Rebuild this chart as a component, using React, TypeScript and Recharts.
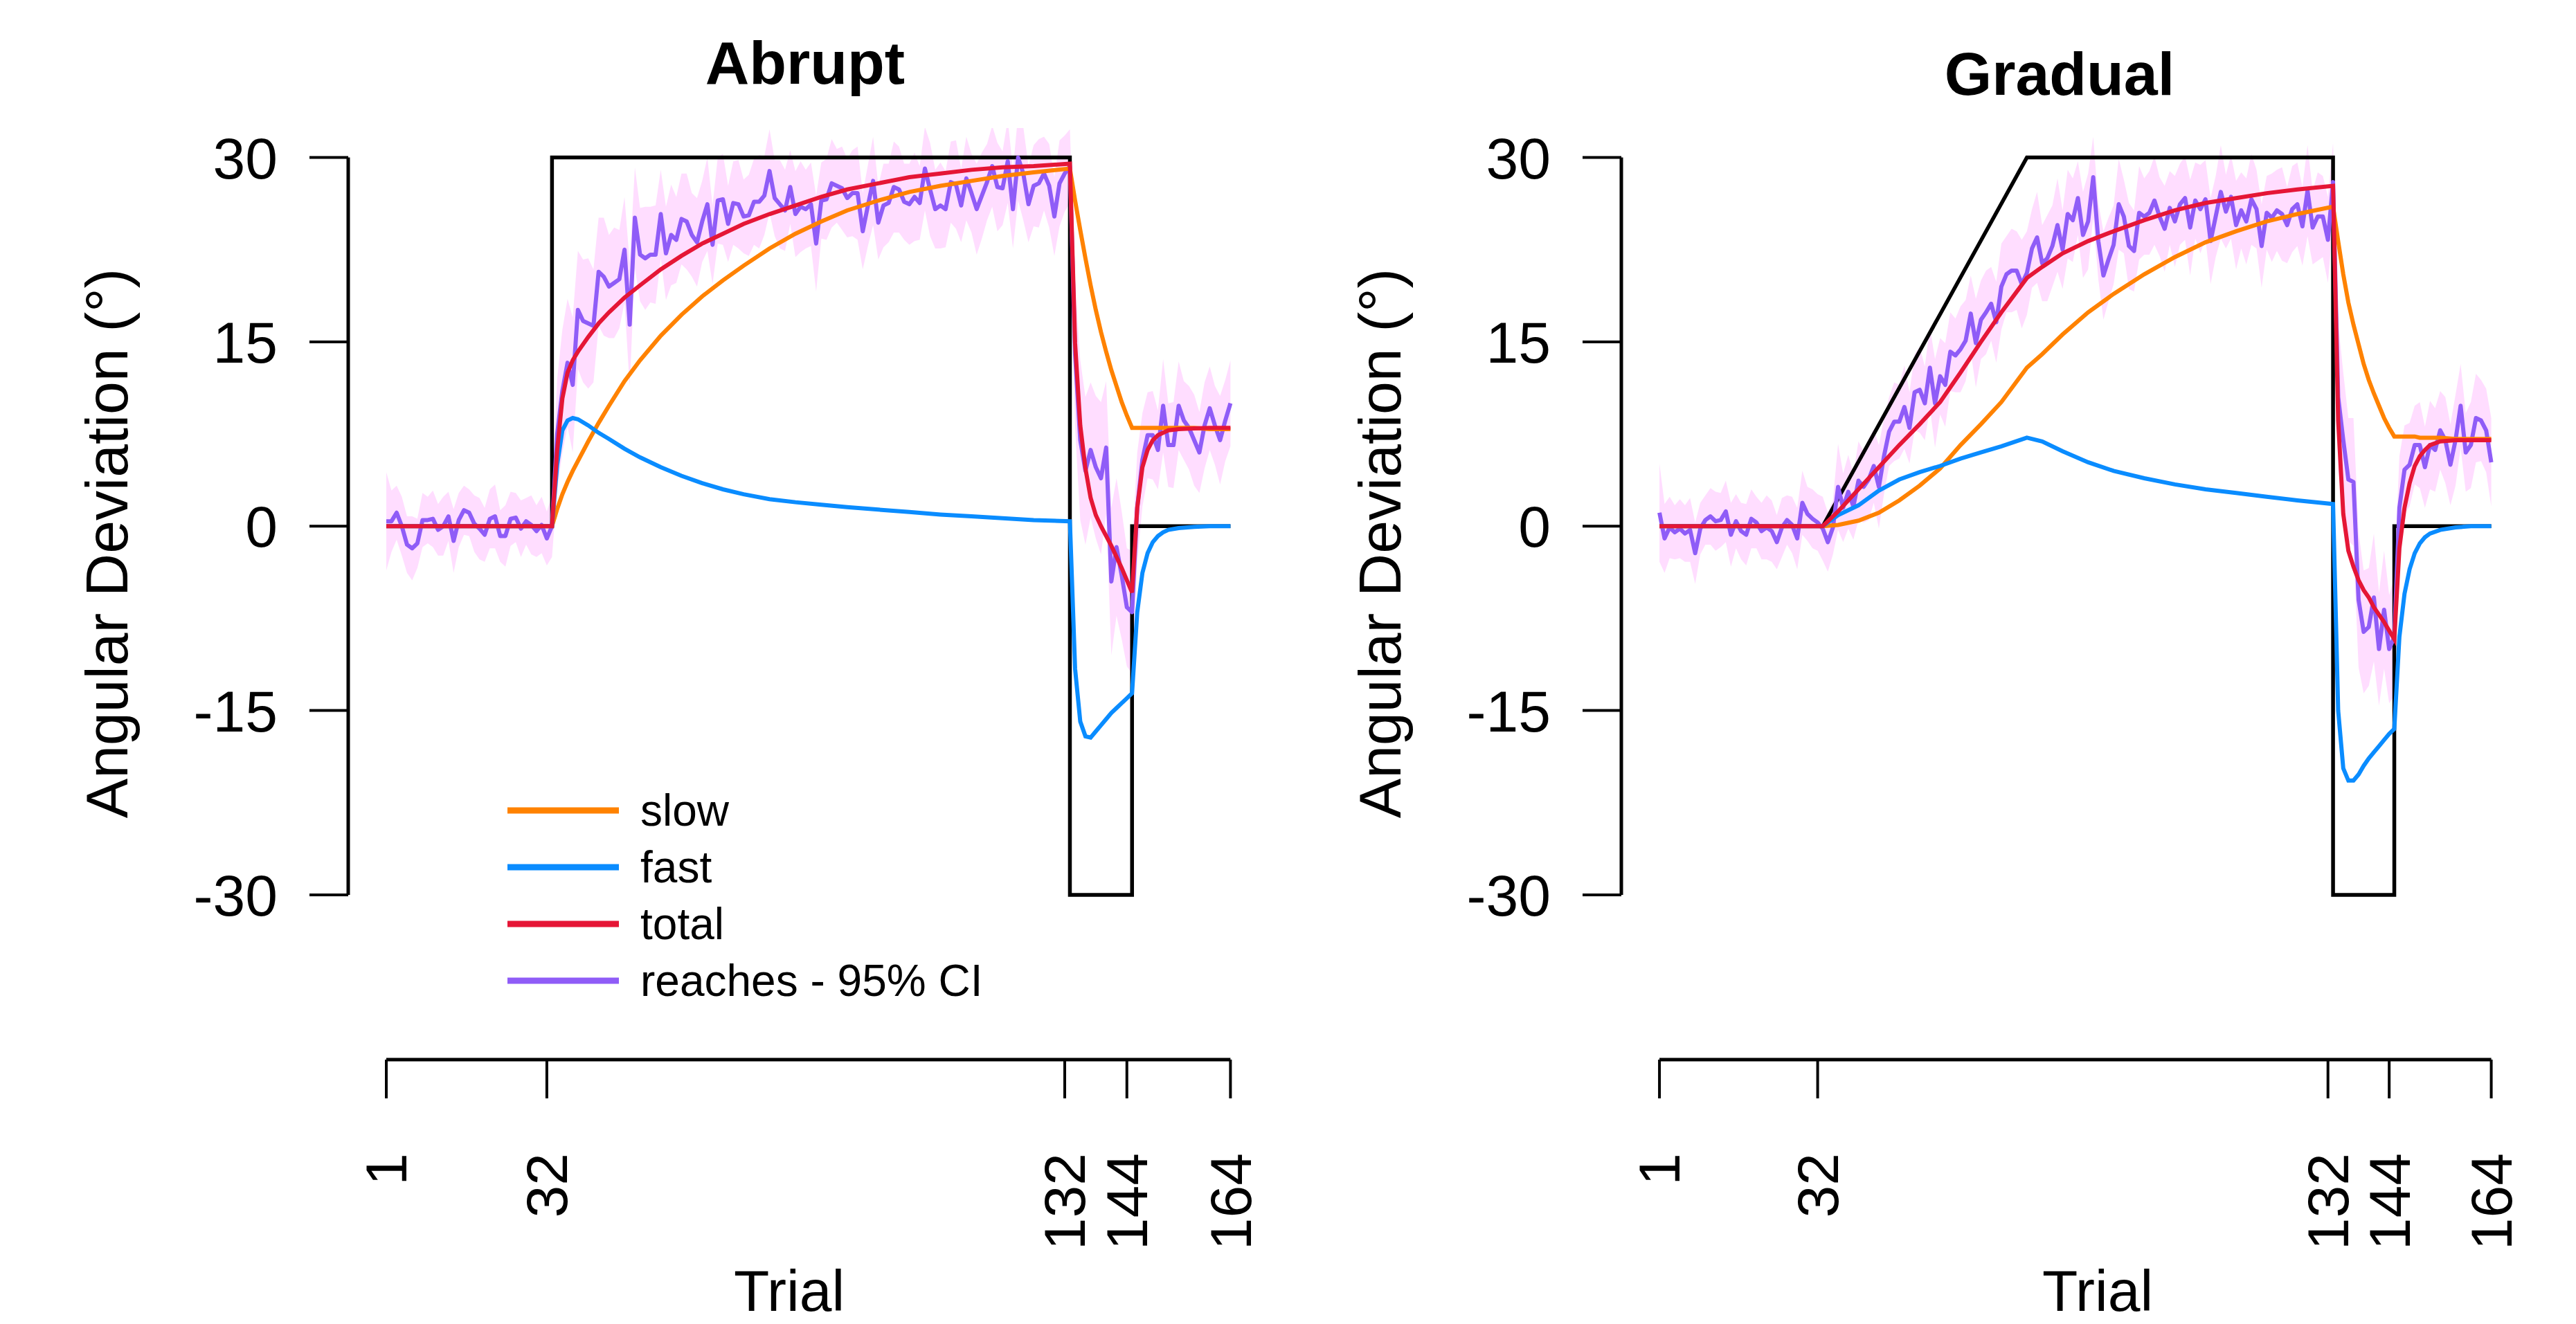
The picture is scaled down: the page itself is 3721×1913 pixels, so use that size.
import React from "react";
import { ComposedChart, Line, Area, XAxis, YAxis, ReferenceLine, Legend } from "recharts";

// ---------- values ----------
const TRIAL_TICKS = [1, 32, 132, 144, 164];
const DEV_TICKS = [-30, -15, 0, 15, 30];

// rotation schedule, corner points
const SCHEDULE_TRIALS_ABRUPT = [1, 33, 33, 133, 133, 145, 145, 164];
const SCHEDULE_TRIALS_GRADUAL = [1, 33, 73, 133, 133, 145, 145, 164];
const SCHEDULE_VALUES = [0, 0, 30, 30, -30, -30, 0, 0];

// mean reach deviations per trial (abrupt group)
const ABRUPT_REACH_BASELINE = [0.4, 0.4, 1.1, 0.0, -1.5, -1.8, -1.4, 0.5, 0.5, 0.6, -0.3, 0.0, 0.8, -1.2, 0.5, 1.3, 1.1, 0.2, -0.2, -0.7, 0.6, 0.8, -0.8, -0.8, 0.6, 0.7, -0.2, 0.4, 0.1, -0.4, 0.1, -1.0];
const ABRUPT_REACH_ROTATED = [0.0, 7.5, 11.0, 13.3, 11.5, 17.6, 16.7, 16.5, 16.3, 20.7, 20.3, 19.5, 19.8, 20.1, 22.5, 16.4, 25.1, 22.1, 21.8, 22.1, 22.1, 25.4, 22.2, 23.7, 23.3, 25.0, 24.8, 23.7, 23.1, 24.8, 26.2, 22.9, 26.5, 26.6, 24.6, 26.3, 26.2, 25.2, 25.3, 26.4, 26.4, 26.9, 28.9, 26.7, 26.2, 25.7, 27.6, 25.4, 26.0, 25.8, 26.2, 23.0, 26.5, 26.6, 27.9,
  27.7, 27.5, 26.7, 27.1, 27.1, 24.0, 26.1, 28.1, 24.7, 26.1, 26.3, 27.6, 27.4, 26.4, 26.2, 26.8, 26.3, 29.1, 27.4, 25.8, 26.1, 25.8, 28.0, 27.8, 26.1, 28.3, 27.1, 25.8, 26.9, 28.0, 29.3, 27.6, 27.5, 29.7, 25.8, 30.0, 28.7, 26.2, 27.7, 27.9, 28.7, 27.7, 25.2, 27.9, 28.7, 29.3];
const ABRUPT_REACH_REVERSED = [14.0, 7.0, 4.5, 6.2, 4.8, 3.9, 6.4, -4.5, -1.7, -4.0, -6.6, -7.0];
const ABRUPT_REACH_CLAMP = [1.5, 5.4, 7.4, 7.4, 6.2, 9.8, 6.6, 6.6, 9.8, 8.6, 8.0, 7.0, 6.0, 8.2, 9.6, 8.2, 7.0, 8.6, 10.0];

// 95% CI half widths (abrupt)
const ABRUPT_CI_BASELINE = [4.0, 2.5, 2.2, 2.4, 2.3, 2.6, 2.0, 2.2, 1.9, 2.3, 2.1, 2.4, 2.0, 2.6, 2.2, 2.0, 1.9, 2.3, 2.5, 2.2, 2.4, 2.6, 2.1, 2.5, 2.2, 2.0, 2.3, 1.9, 2.4, 2.1, 2.3, 2.2];
const ABRUPT_CI_ROTATED = [2.5, 4.5, 5.0, 5.2, 5.5, 4.8, 5.0, 5.3, 4.6, 4.4, 4.8, 4.2, 4.5, 4.0, 4.3, 5.0, 4.1, 3.8, 4.2, 3.9, 4.0, 3.6, 3.8, 4.1, 3.5, 3.7, 3.9, 3.4,
  3.6, 3.3, 3.8, 3.2, 3.5, 3.7, 3.1, 3.4, 3.6, 3.0, 3.3, 3.5, 3.8, 3.2, 3.4, 3.1, 3.6, 3.3, 3.0, 3.5, 3.7, 3.2, 3.4, 3.9, 3.1, 3.3, 3.6, 3.0, 3.4, 3.2,
  3.5, 3.8, 3.1, 3.3, 3.6, 3.0, 3.4, 3.2, 3.7, 3.5, 3.1, 3.3, 3.6, 3.0, 3.4, 3.8, 3.2, 3.5, 3.1, 3.3, 3.6, 3.0, 3.4, 3.2, 3.7, 3.5, 3.1, 3.3, 3.6, 3.0,
  3.4, 3.2, 3.5, 3.8, 3.1, 3.3, 3.6, 3.0, 3.4, 3.2, 3.5, 3.1, 3.0];
const ABRUPT_CI_REVERSED = [6.0, 6.5, 6.0, 5.5, 5.8, 6.2, 5.4, 6.0, 5.6, 5.2, 4.8, 5.0];
const ABRUPT_CI_CLAMP = [4.5, 3.8, 3.5, 3.6, 3.2, 3.8, 3.4, 3.5, 3.6, 3.2, 3.4, 3.7, 3.3, 3.5, 3.4, 3.2, 3.6, 3.3, 3.5];

// mean reach deviations per trial (gradual group)
const GRADUAL_REACH_BASELINE = [1.1, -1.0, -0.1, -0.5, -0.2, -0.6, -0.3, -2.2, -0.2, 0.5, 0.8, 0.4, 0.5, 1.2, -0.7, 0.4, -0.4, -0.7, 0.6, 0.3, -0.4, -0.1, -0.4, -1.3, -0.1, 0.5, 0.1, -1.0, 1.9, 1.0, 0.6, 0.3];
const GRADUAL_REACH_RAMP = [-0.2, -1.3, -0.1, 3.2, 1.5, 2.8, 1.6, 3.7, 3.2, 3.8, 4.9, 3.2, 5.7, 7.7, 8.5, 8.5, 9.7, 8.0, 10.9, 11.1, 10.0, 12.9, 10.0, 12.2,
  11.5, 14.2, 13.9, 14.4, 15.1, 17.3, 14.9, 16.8, 17.4, 18.1, 16.6, 19.5, 20.5, 20.8, 20.8, 19.7];
const GRADUAL_REACH_PLATEAU = [20.6, 22.6, 23.5, 21.4, 21.8, 22.8, 24.5, 22.5, 25.4, 24.9, 26.7, 23.7, 24.8, 28.4, 23.2, 20.4, 21.7, 22.9, 26.2, 25.2, 22.8, 22.4, 25.5, 25.2, 25.5, 26.5, 25.2, 24.2, 25.9, 24.8, 26.2, 26.7, 24.3, 26.5, 25.8, 26.6, 23.2, 25.2,
  27.2, 25.6, 26.8, 24.5, 25.7, 24.8, 26.6, 25.8, 22.8, 25.5, 25.1, 25.7, 25.4, 24.5, 25.8, 26.2, 24.4, 27.3, 24.3, 25.2, 25.2, 23.3, 28.0];
const GRADUAL_REACH_REVERSED = [10.5, 7.0, 3.8, 3.6, -6.0, -8.6, -8.2, -5.8, -10.0, -6.8, -10.0, -9.0];
const GRADUAL_REACH_CLAMP = [1.5, 4.6, 5.0, 6.6, 6.6, 4.8, 6.6, 6.2, 7.8, 7.0, 5.0, 7.0, 9.8, 6.0, 6.6, 8.8, 8.6, 7.8, 5.2];

// 95% CI half widths (gradual)
const GRADUAL_CI_BASELINE = [4.0, 2.8, 2.5, 2.2, 2.4, 2.3, 2.6, 2.5, 2.1, 2.0, 2.3, 2.4, 2.2, 2.5, 2.6, 2.2, 2.3, 2.5, 2.4, 2.1, 2.3, 2.6, 2.5, 2.2, 2.4, 2.0, 2.3, 2.5, 2.6, 2.2, 2.4, 2.3];
const GRADUAL_CI_RAMP = [2.6, 2.4, 2.2, 3.5, 2.8, 3.0, 2.7, 3.2, 2.9, 3.3, 3.0, 3.4, 3.1, 2.8, 3.2, 3.0, 3.4, 2.9, 3.1, 3.5,
  3.0, 3.3, 3.6, 3.1, 3.4, 3.2, 3.0, 3.5, 3.3, 3.1, 3.6, 3.2, 3.4, 3.0, 3.3, 3.5, 3.1, 3.4, 3.2, 3.6];
const GRADUAL_CI_PLATEAU = [3.4, 3.2, 3.7, 3.1, 3.5, 3.3, 3.8, 3.2, 3.6, 3.4, 3.0, 3.5, 3.9, 3.3, 3.1, 3.6, 3.4, 3.2, 3.7, 3.0,
  3.5, 3.3, 3.8, 3.1, 3.4, 3.6, 3.2, 3.5, 3.0, 3.7, 3.3, 3.4, 3.9, 3.1, 3.6, 3.2, 3.5, 3.3, 3.8, 3.0,
  3.4, 3.6, 3.1, 3.5, 3.7, 3.2, 3.4, 3.0, 3.6, 3.3, 3.8, 3.1, 3.5, 3.4, 3.2, 3.7, 3.0, 3.6, 3.3, 3.5, 3.2];
const GRADUAL_CI_REVERSED = [6.0, 5.5, 5.0, 5.2, 5.5, 5.0, 4.8, 5.2, 4.6, 4.8, 4.4, 4.8];
const GRADUAL_CI_CLAMP = [4.2, 3.6, 3.4, 3.2, 3.5, 3.3, 3.6, 3.4, 3.2, 3.5, 3.3, 3.7, 3.4, 3.2, 3.5, 3.6, 3.3, 3.4, 3.6];

// two-rate model fits, sampled at these trials
const MODEL_TRIALS_ABRUPT = [1, 33, 34, 35, 36, 37, 38, 40, 42, 44, 47, 50, 54, 58, 62, 66, 70, 75, 80, 85, 90, 96, 102, 108, 114, 120, 126, 133,
  134, 135, 136, 137, 138, 139, 140, 141, 142, 143, 144, 145, 146, 147, 148, 149, 150, 151, 152, 154, 157, 160, 164];
const SLOW_ABRUPT = [0, 0, 1.4, 2.6, 3.6, 4.5, 5.3, 6.9, 8.4, 9.8, 11.8, 13.5, 15.5, 17.2, 18.7, 20.0, 21.2, 22.6, 23.8, 24.8, 25.7, 26.5, 27.2, 27.7, 28.1, 28.5, 28.8, 29.1,
  26.5, 24.1, 21.8, 19.6, 17.6, 15.8, 14.2, 12.7, 11.4, 10.1, 9.0, 8.0, 8.0, 8.0, 8.0, 8.0, 8.0, 8.0, 8.0, 8.0, 8.0, 7.9, 7.9];
const FAST_ABRUPT = [0, 0, 5.0, 7.8, 8.6, 8.8, 8.7, 8.2, 7.6, 7.1, 6.3, 5.6, 4.8, 4.1, 3.5, 3.0, 2.6, 2.2, 1.95, 1.75, 1.55, 1.35, 1.15, 0.95, 0.8, 0.65, 0.5, 0.4,
  -11.6, -15.9, -17.1, -17.2, -16.7, -16.2, -15.7, -15.2, -14.8, -14.4, -14.0, -13.6, -7.0, -3.8, -2.2, -1.3, -0.8, -0.5, -0.3, -0.15, -0.05, 0, 0];
const TOTAL_ABRUPT = [0, 0, 6.2, 10.4, 12.5, 13.5, 14.2, 15.4, 16.5, 17.4, 18.6, 19.6, 20.9, 22.0, 23.0, 23.8, 24.6, 25.4, 26.1, 26.8, 27.4, 27.9, 28.4, 28.7, 29.0, 29.2, 29.3, 29.5,
  14.9, 8.2, 4.7, 2.3, 0.9, 0.0, -0.8, -1.6, -2.5, -3.4, -4.4, -5.4, 1.5, 4.8, 6.2, 7.0, 7.4, 7.6, 7.8, 7.9, 7.95, 8.0, 8.0];

const MODEL_TRIALS_GRADUAL = [1, 33, 36, 40, 44, 48, 52, 56, 60, 64, 68, 73, 76, 80, 85, 90, 96, 102, 108, 114, 120, 126, 133,
  134, 135, 136, 137, 138, 139, 140, 141, 142, 143, 144, 145, 146, 147, 148, 149, 150, 151, 152, 154, 157, 160, 164];
const SLOW_GRADUAL = [0, 0, 0.1, 0.45, 1.1, 2.1, 3.3, 4.7, 6.6, 8.3, 10.1, 12.9, 14.0, 15.6, 17.4, 18.9, 20.5, 21.9, 23.1, 24.0, 24.8, 25.4, 26.0,
  23.2, 20.5, 18.2, 16.4, 14.8, 13.2, 11.9, 10.8, 9.8, 8.8, 8.0, 7.3, 7.3, 7.3, 7.3, 7.3, 7.2, 7.2, 7.2, 7.2, 7.1, 7.1, 7.1];
const FAST_GRADUAL = [0, 0, 0.9, 1.7, 2.9, 3.8, 4.4, 4.9, 5.5, 6.0, 6.5, 7.2, 6.9, 6.1, 5.2, 4.5, 3.9, 3.4, 3.0, 2.7, 2.4, 2.1, 1.8,
  -15.0, -19.7, -20.7, -20.7, -20.2, -19.5, -18.9, -18.4, -17.9, -17.4, -16.9, -16.5, -9.0, -5.5, -3.5, -2.2, -1.4, -0.9, -0.6, -0.3, -0.1, 0, 0];
const TOTAL_GRADUAL = [0, 0, 1.2, 3.0, 4.8, 6.6, 8.3, 10.1, 12.5, 15.0, 17.4, 20.2, 21.1, 22.2, 23.2, 24.0, 24.9, 25.7, 26.3, 26.7, 27.1, 27.4, 27.7,
  8.6, 1.0, -2.0, -3.3, -4.4, -5.2, -5.8, -6.6, -7.2, -7.8, -8.5, -9.2, -1.8, 1.5, 3.5, 4.9, 5.7, 6.2, 6.6, 6.9, 7.0, 7.0, 7.0];

// ---------- styling ----------
const FONT = '"Liberation Sans", Arial, Helvetica, sans-serif';
const COLORS = {
  slow: "#FF8200",
  fast: "#0A8CFF",
  total: "#E51636",
  reaches: "#8F5CF7",
  band: "#FFDDFF",
  schedule: "#000000",
};
const LINE_W = 6;
const W = 3721;
const H = 1913;
const PLOT_TOP = 185;
const PLOT_BOTTOM = 1531;
const Y_DOMAIN: [number, number] = [-43.41, 32.4];
const X_MAX = 170.5;
const Y_AXIS_W = 200;
const X_AXIS_H = 300;
const TICK_LEN = 56;

function buildReaches(reach: number[], ci: number[]) {
  return reach.map((r, i) => ({ trial: i + 1, reach: r, band: [r - ci[i], r + ci[i]] }));
}
function buildModel(trials: number[], slow: number[], fast: number[], total: number[]) {
  return trials.map((t, i) => ({ trial: t, slow: slow[i], fast: fast[i], total: total[i] }));
}
function buildSchedule(trials: number[]) {
  return trials.map((t, i) => ({ trial: t, value: SCHEDULE_VALUES[i] }));
}

const abruptReaches = buildReaches(
  [...ABRUPT_REACH_BASELINE, ...ABRUPT_REACH_ROTATED, ...ABRUPT_REACH_REVERSED, ...ABRUPT_REACH_CLAMP],
  [...ABRUPT_CI_BASELINE, ...ABRUPT_CI_ROTATED, ...ABRUPT_CI_REVERSED, ...ABRUPT_CI_CLAMP]
);
const gradualReaches = buildReaches(
  [...GRADUAL_REACH_BASELINE, ...GRADUAL_REACH_RAMP, ...GRADUAL_REACH_PLATEAU, ...GRADUAL_REACH_REVERSED, ...GRADUAL_REACH_CLAMP],
  [...GRADUAL_CI_BASELINE, ...GRADUAL_CI_RAMP, ...GRADUAL_CI_PLATEAU, ...GRADUAL_CI_REVERSED, ...GRADUAL_CI_CLAMP]
);

function TrialTick({ x, y, payload }: any) {
  return (
    <text transform={`translate(${x},${y}) rotate(-90)`} textAnchor="end" dy="0.35em"
      fontSize={84} fontFamily={FONT} fill="#000">
      {payload.value}
    </text>
  );
}

function DevTick({ x, y, payload }: any) {
  return (
    <text x={x} y={y} dy="0.36em" textAnchor="end" fontSize={84} fontFamily={FONT} fill="#000">
      {payload.value}
    </text>
  );
}

const LEGEND_ORDER = ["slow", "fast", "total", "reaches - 95% CI"];

function LegendBox(props: any) {
  const payload = props.payload || [];
  const items = LEGEND_ORDER.map((n) => payload.find((p: any) => p.value === n)).filter(Boolean);
  return (
    <div style={{ fontFamily: FONT }}>
      {items.map((p: any) => (
        <div key={p.value} style={{ display: "flex", alignItems: "center", height: 82 }}>
          <svg width={161} height={12}>
            <line x1={0} x2={161} y1={6} y2={6} stroke={p.color} strokeWidth={9} />
          </svg>
          <span style={{ marginLeft: 31, fontSize: 64, lineHeight: "82px", color: "#000" }}>{p.value}</span>
        </div>
      ))}
    </div>
  );
}

type PanelProps = {
  left: number;
  width: number;
  plotLeft: number;
  plotRight: number;
  xMin: number;
  reaches: any[];
  model: any[];
  schedule: any[];
  legend?: boolean;
};

function Panel({ left, width, plotLeft, plotRight, xMin, reaches, model, schedule, legend }: PanelProps) {
  return (
    <div style={{ position: "absolute", left, top: 0, width, height: H }}>
      <ComposedChart
        width={width}
        height={H}
        data={reaches}
        margin={{ top: PLOT_TOP, right: width - plotRight, bottom: H - PLOT_BOTTOM - X_AXIS_H, left: plotLeft - Y_AXIS_W }}
      >
        <XAxis type="number" dataKey="trial" domain={[xMin, X_MAX]} ticks={TRIAL_TICKS} interval={0}
          allowDataOverflow height={X_AXIS_H} axisLine={false}
          tickLine={{ stroke: "#000", strokeWidth: 4 }} tickSize={TICK_LEN} tickMargin={79} tick={<TrialTick />} />
        <YAxis type="number" domain={Y_DOMAIN} ticks={DEV_TICKS} interval={0} allowDataOverflow
          width={Y_AXIS_W} axisLine={false}
          tickLine={{ stroke: "#000", strokeWidth: 4 }} tickSize={TICK_LEN} tickMargin={46} tick={<DevTick />} />
        <Area dataKey="band" fill={COLORS.band} fillOpacity={1} stroke="none" legendType="none" isAnimationActive={false} />
        <Line data={schedule} dataKey="value" stroke={COLORS.schedule} strokeWidth={5.5} dot={false}
          activeDot={false} legendType="none" isAnimationActive={false} />
        <Line dataKey="reach" name="reaches - 95% CI" stroke={COLORS.reaches} strokeWidth={LINE_W} dot={false}
          activeDot={false} strokeLinejoin="round" isAnimationActive={false} />
        <Line data={model} dataKey="slow" name="slow" stroke={COLORS.slow} strokeWidth={LINE_W} dot={false}
          activeDot={false} isAnimationActive={false} />
        <Line data={model} dataKey="fast" name="fast" stroke={COLORS.fast} strokeWidth={LINE_W} dot={false}
          activeDot={false} isAnimationActive={false} />
        <Line data={model} dataKey="total" name="total" stroke={COLORS.total} strokeWidth={LINE_W} dot={false}
          activeDot={false} isAnimationActive={false} />
        <ReferenceLine segment={[{ x: xMin, y: -30 }, { x: xMin, y: 30 }]} stroke="#000" strokeWidth={5} ifOverflow="visible" />
        <ReferenceLine segment={[{ x: 1, y: Y_DOMAIN[0] }, { x: 164, y: Y_DOMAIN[0] }]} stroke="#000" strokeWidth={5} ifOverflow="visible" />
        {legend && (
          <Legend layout="vertical" align="center" verticalAlign="middle" content={<LegendBox />}
            wrapperStyle={{ left: 733, top: 1130, width: "auto", height: "auto" }} />
        )}
      </ComposedChart>
    </div>
  );
}

export default function App() {
  return (
    <div style={{ position: "absolute", left: 0, top: 0, width: W, height: H, background: "#fff", overflow: "hidden" }}>
      <Panel left={0} width={1860} plotLeft={503} plotRight={1826} xMin={-6.35}
        reaches={abruptReaches}
        model={buildModel(MODEL_TRIALS_ABRUPT, SLOW_ABRUPT, FAST_ABRUPT, TOTAL_ABRUPT)}
        schedule={buildSchedule(SCHEDULE_TRIALS_ABRUPT)} legend />
      <Panel left={1860} width={1861} plotLeft={482} plotRight={1786.5} xMin={-6.47}
        reaches={gradualReaches}
        model={buildModel(MODEL_TRIALS_GRADUAL, SLOW_GRADUAL, FAST_GRADUAL, TOTAL_GRADUAL)}
        schedule={buildSchedule(SCHEDULE_TRIALS_GRADUAL)} />
      <svg width={W} height={H} style={{ position: "absolute", left: 0, top: 0, pointerEvents: "none" }}>
        <g fontFamily={FONT} fill="#000">
          <text x={1163} y={121} textAnchor="middle" fontSize={88} fontWeight="bold">Abrupt</text>
          <text x={2975} y={137} textAnchor="middle" fontSize={88} fontWeight="bold">Gradual</text>
          <text transform="translate(154,785) rotate(-90)" textAnchor="middle" dy="0.35em" fontSize={86}>Angular Deviation (°)</text>
          <text transform="translate(1993,785) rotate(-90)" textAnchor="middle" dy="0.35em" fontSize={86}>Angular Deviation (°)</text>
          <text x={1140} y={1894} textAnchor="middle" fontSize={84}>Trial</text>
          <text x={3030} y={1894} textAnchor="middle" fontSize={84}>Trial</text>
        </g>
      </svg>
    </div>
  );
}
